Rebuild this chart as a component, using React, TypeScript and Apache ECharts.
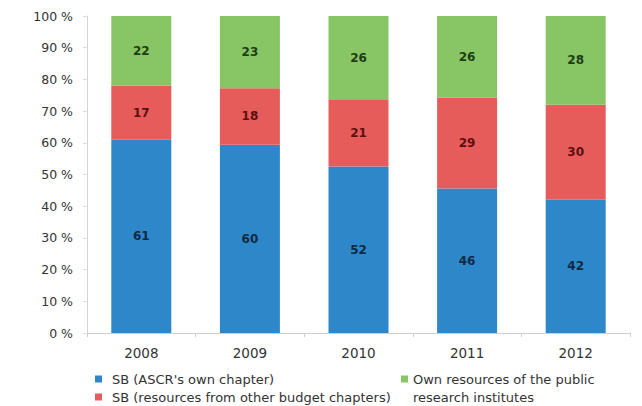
import React, { useEffect, useRef } from "react";
import * as echarts from "echarts";

const years = ["2008", "2009", "2010", "2011", "2012"];
const sbOwn = [61, 60, 52, 46, 42];
const sbOther = [17, 18, 21, 29, 30];
const ownRes = [22, 23, 26, 26, 28];
const seriesNames = [
  "SB (ASCR's own chapter)",
  "SB (resources from other budget chapters)",
  "Own resources of the public research institutes",
];
const colors = ["#2e87c8", "#e65c5b", "#88c565"];
const labelColors = ["#0f2a45", "#5a1010", "#1d3d14"];

export default function App() {
  const ref = useRef<HTMLDivElement>(null);
  useEffect(() => {
    if (!ref.current) return;
    const chart = echarts.init(ref.current, undefined, { renderer: "svg" });
    const raws = [sbOwn, sbOther, ownRes];
    const totals = years.map((_, i) => sbOwn[i] + sbOther[i] + ownRes[i]);
    const font = "DejaVu Sans, Verdana, sans-serif";
    const legendText = { color: "#333", fontSize: 13, lineHeight: 18, fontFamily: font, padding: [0, 0, 0, 5] };
    const legendBase = {
      orient: "vertical",
      padding: 0,
      itemWidth: 7,
      itemHeight: 7,
      icon: "rect",
      textStyle: legendText,
    };
    chart.setOption({
      animation: false,
      textStyle: { fontFamily: font },
      grid: { left: 87, right: 12, top: 16, bottom: 73, containLabel: false },
      xAxis: {
        type: "category",
        data: years,
        axisLine: { lineStyle: { color: "#cfcfcf" } },
        axisTick: { show: true, length: 4, lineStyle: { color: "#cfcfcf" } },
        axisLabel: { color: "#333", fontSize: 13.5, margin: 13, fontFamily: font },
      },
      yAxis: {
        type: "value",
        min: 0,
        max: 100,
        interval: 10,
        splitLine: { show: false },
        axisLine: { show: true, lineStyle: { color: "#d5d5d5" } },
        axisTick: { show: true, length: 4, lineStyle: { color: "#e0e0e0" } },
        axisLabel: {
          color: "#333",
          fontSize: 12.5,
          margin: 14,
          fontFamily: font,
          formatter: (v: number) => `${v} %`,
        },
      },
      legend: [
        { ...legendBase, data: [seriesNames[0]], left: 95, top: 370 },
        { ...legendBase, data: [seriesNames[1]], left: 95, top: 388 },
        {
          ...legendBase,
          data: [seriesNames[2]],
          left: 401,
          top: 352,
          textStyle: { ...legendText, padding: 0 },
          formatter: () => "\nOwn resources of the public\nresearch institutes",
        },
      ],
      series: raws.map((raw, k) => ({
        name: seriesNames[k],
        type: "bar",
        stack: "total",
        barWidth: 60,
        itemStyle: { color: colors[k] },
        data: raw.map((v, i) => (v / totals[i]) * 100),
        label: {
          show: true,
          position: "inside",
          color: labelColors[k],
          fontSize: 12,
          fontWeight: "bold",
          fontFamily: font,
          formatter: (p: any) => String(raw[p.dataIndex]),
        },
      })),
    });
    return () => chart.dispose();
  }, []);
  return <div ref={ref} style={{ width: 642, height: 406, position: "absolute", left: 0, top: 0 }} />;
}
